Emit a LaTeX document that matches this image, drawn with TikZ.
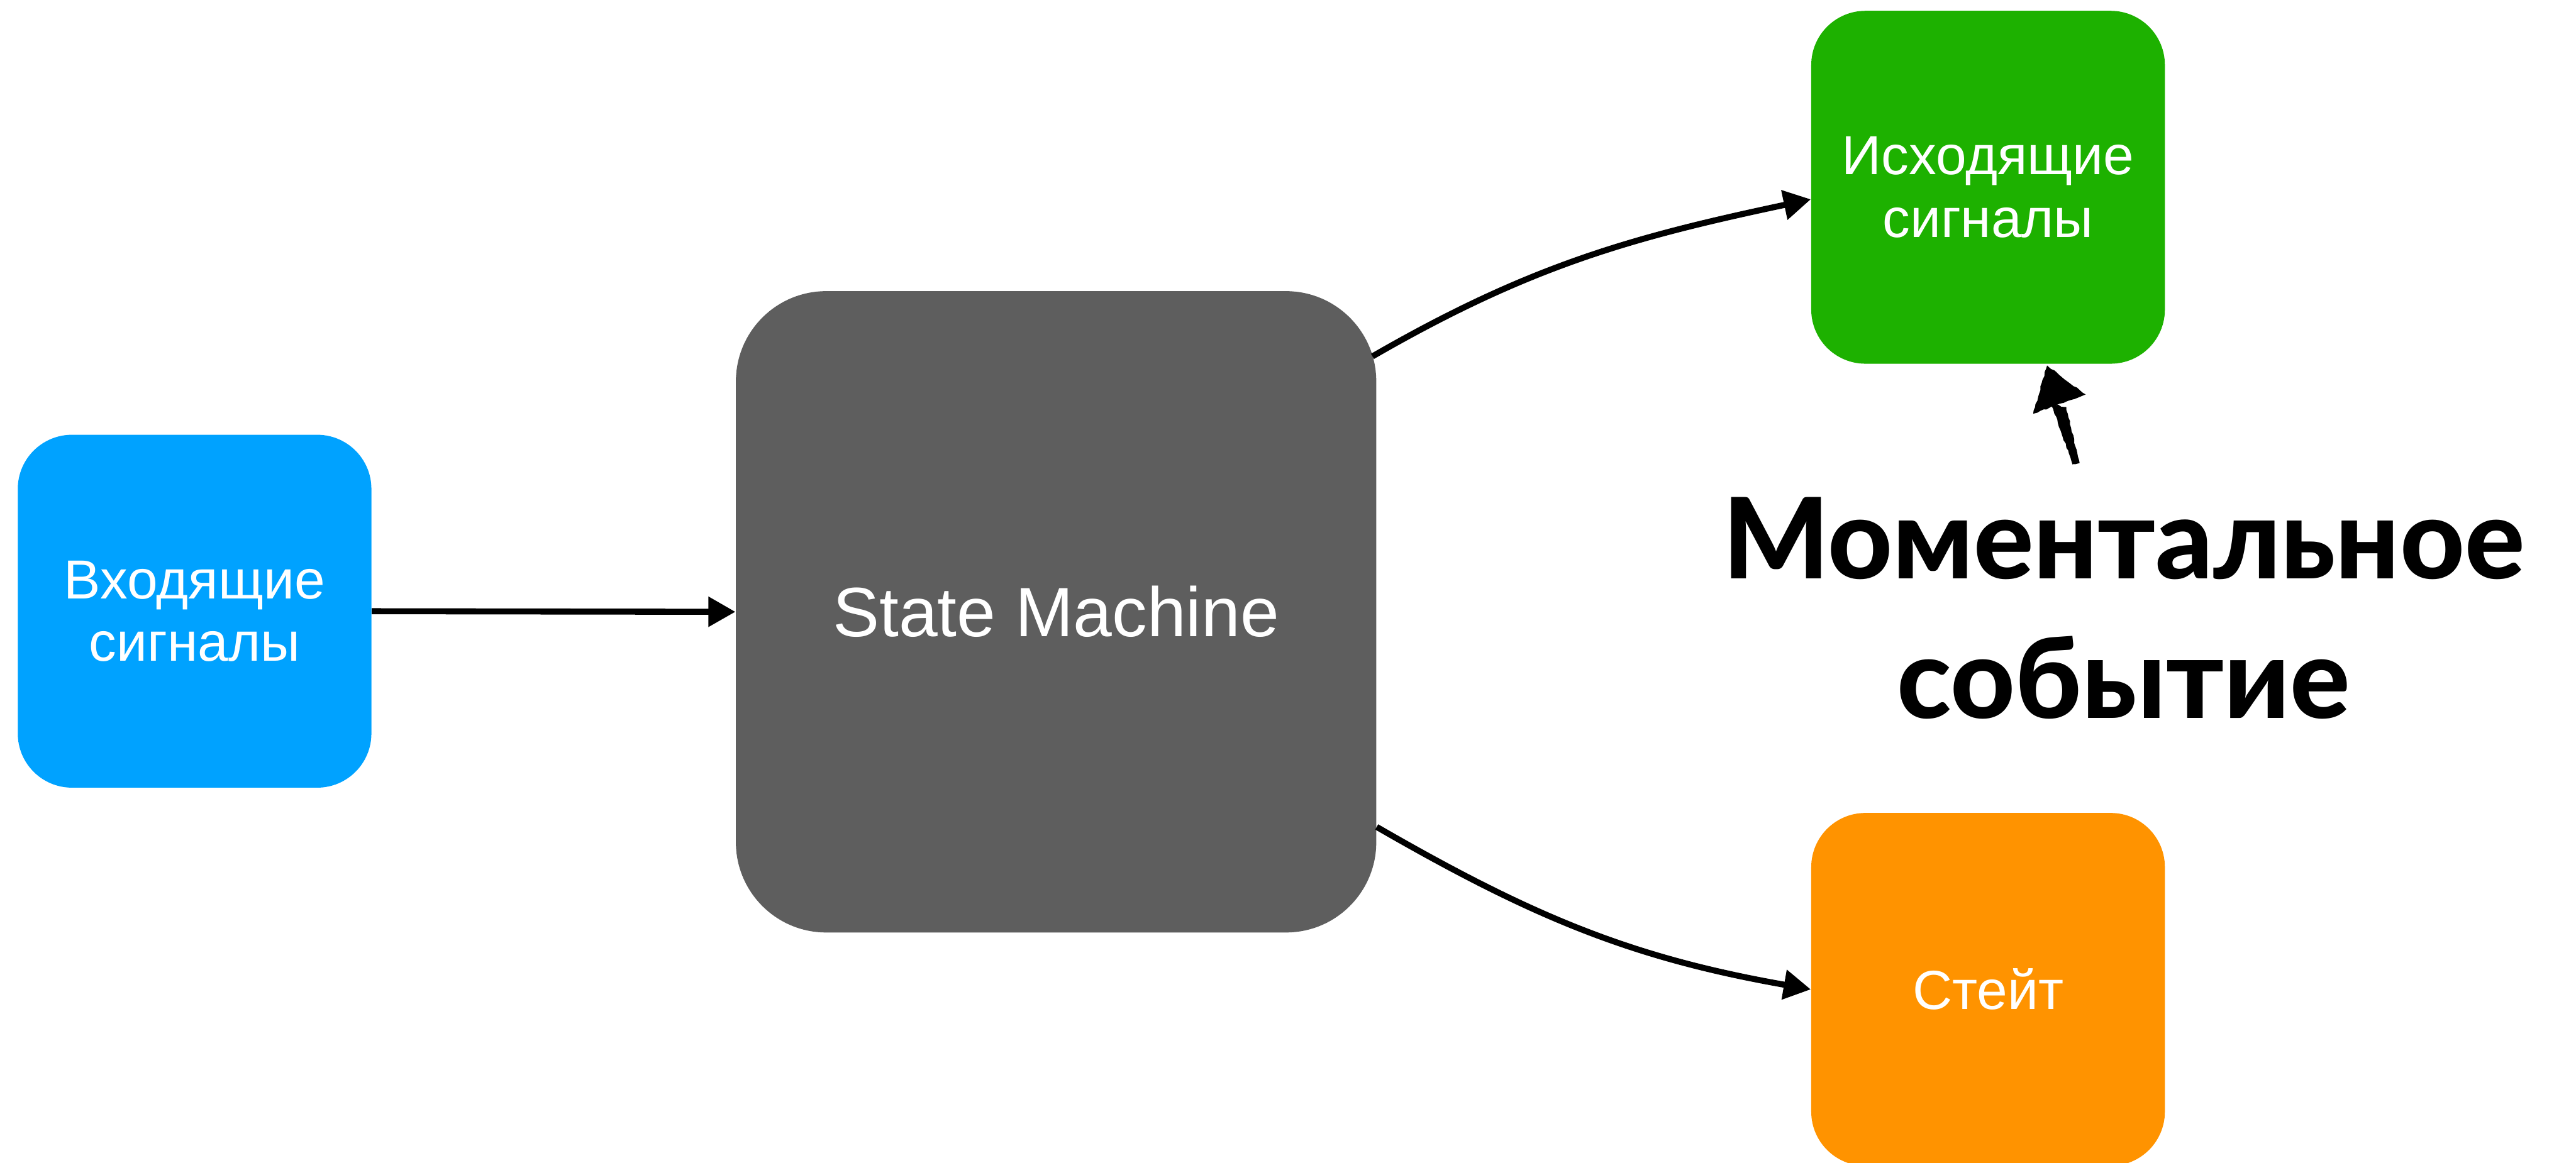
\documentclass[tikz,border=0pt]{standalone}
\usepackage{fontspec}
\setmainfont{Liberation Sans}
\newfontfamily\titlefont{Lato}[BoldFont={Lato Heavy}]
\usepackage{tikz}
\usetikzlibrary{arrows.meta,positioning,decorations.pathmorphing}
\definecolor{SignalBlue}{RGB}{0,162,255}
\definecolor{MachineGray}{RGB}{94,94,94}
\definecolor{OutGreen}{RGB}{29,177,0}
\definecolor{StateOrange}{RGB}{255,147,0}

\begin{document}
\begin{tikzpicture}[x=1cm,y=1cm,>={Triangle[length=4.5mm,width=4.8mm]},
    block/.style={fill=#1,text=white,rounded corners=9mm,
      minimum width=5.87cm,minimum height=5.86cm,inner sep=0pt,
      align=center,font=\fontsize{26}{29.6}\selectfont},
    flow/.style={->,line width=1mm},
    rough/.style={decorate,decoration={random steps,segment length=0.6mm,amplitude=0.12mm}}]
  \useasboundingbox (0,0) rectangle (42.76,19.31);

  \node[block=SignalBlue] (insig) at (3.23,9.16) {Входящие\\сигналы};
  \node[block=MachineGray,minimum width=10.63cm,minimum height=10.65cm,
    rounded corners=15mm,font=\fontsize{33}{40}\selectfont] (sm) at (17.53,9.15) {State Machine};
  \node[block=OutGreen] (outsig) at (33.00,16.20) {Исходящие\\сигналы};
  \node[block=StateOrange] (state) at (33.00,2.88) {Стейт};
  \node[align=center,inner sep=0pt,
    font=\titlefont\bfseries\fontsize{53}{66}\selectfont] (evt) at (35.25,9.21) {Моментальное\\событие};

  \draw[flow] (insig.east) -- (sm.west);
  \draw[flow] ([xshift=-0.7mm,yshift=-10.9mm]sm.north east) to[out=30,in=192] ([yshift=-2mm]outsig.west);
  \draw[flow] ([yshift=17.6mm]sm.south east) to[out=-30,in=170] (state.west);

  % pointer drawn by hand
  \fill[black,rough] (33.98,13.24) -- (33.75,12.44) -- (34.62,12.76) -- cycle;
  \fill[black,rough] (34.05,12.60) -- (34.30,12.55) -- (34.52,11.62) -- (34.40,11.60) -- cycle;
\end{tikzpicture}
\end{document}
